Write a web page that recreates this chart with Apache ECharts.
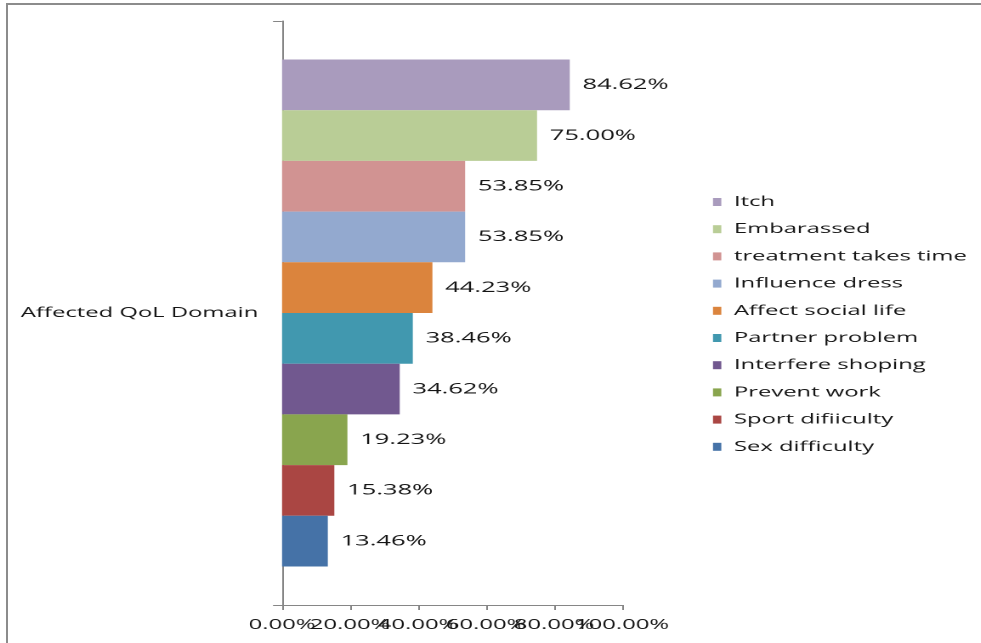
<!DOCTYPE html>
<html>
<head>
<meta charset="utf-8">
<title>Affected QoL Domain</title>
<script src="https://cdn.jsdelivr.net/npm/echarts@6/dist/echarts.min.js"></script>
<style>
  html, body { margin: 0; padding: 0; background: #ffffff; }
  #page { position: relative; width: 981px; height: 643px; overflow: hidden; background: #ffffff; }
  #frame {
    position: absolute; left: 6px; top: 3px; width: 1000px; height: 638px;
    border-left: 2px solid #8c8c8c; border-top: 2px solid #8c8c8c; border-bottom: 1px solid #b4b4b4;
  }
  /* the chart is laid out narrow and widened horizontally, giving the wide lettering */
  #chart {
    position: absolute; left: 0; top: 0; width: 577.06px; height: 643px;
    transform: scaleX(1.7); transform-origin: 0 0;
  }
</style>
</head>
<body>
<div id="page">
  <div id="frame"></div>
  <div id="chart"></div>
</div>
<script>
// Share of patients reporting each affected quality-of-life domain (%)
const categories = ['Affected QoL Domain'];
const domainNames = [
  'Itch',
  'Embarassed',
  'treatment takes time',
  'Influence dress',
  'Affect social life',
  'Partner problem',
  'Interfere shoping',
  'Prevent work',
  'Sport difiiculty',
  'Sex difficulty'
];
const domainValues = [84.62, 75.00, 53.85, 53.85, 44.23, 38.46, 34.62, 19.23, 15.38, 13.46];
const xTickLabels = ['0.00%', '20.00%', '40.00%', '60.00%', '80.00%', '100.00%'];
const palette = ['#a99bbd', '#b9cd96', '#d19392', '#93a9cf', '#db843d', '#4198af', '#71588f', '#89a54e', '#aa4643', '#4572a7'];

const FONT = '"Open Sans", "DejaVu Sans", sans-serif';
const TEXT = '#151515';
const AXIS_GRAY = '#868686';

const chart = echarts.init(document.getElementById('chart'), null, { renderer: 'canvas', devicePixelRatio: 2 });

const series = domainNames.map((name, i) => ({
  name: name,
  type: 'bar',
  xAxisIndex: 0,
  data: [domainValues[i]],
  barGap: '0%',
  barCategoryGap: '13.2%',
  itemStyle: { color: palette[i] },
  label: {
    show: true,
    position: 'right',
    distance: 7.5,
    color: TEXT,
    fontFamily: FONT,
    fontSize: 15,
    formatter: p => p.value.toFixed(2) + '%'
  },
  emphasis: { disabled: true },
  animation: false
}));

// The tick labels run into one another; they are split over two overlaid
// value axes (alternate ticks each) so that every one of them is kept.
function tickLabelAxis(parity, withLine) {
  return {
    type: 'value',
    position: 'bottom',
    offset: 0,
    min: 0,
    max: 100,
    interval: 20,
    splitLine: { show: false },
    axisLine: { show: withLine, lineStyle: { color: AXIS_GRAY, width: 1 } },
    axisTick: { show: withLine, length: 5, lineStyle: { color: AXIS_GRAY } },
    axisLabel: {
      color: TEXT,
      fontSize: 14,
      margin: 13,
      fontFamily: FONT,
      hideOverlap: false,
      showMinLabel: true,
      showMaxLabel: true,
      formatter: v => {
        const k = Math.round(v / 20);
        return k % 2 === parity ? xTickLabels[k] : '';
      }
    }
  };
}

chart.setOption({
  animation: false,
  textStyle: { fontFamily: FONT },
  grid: { left: 165.9, width: 200, top: 21, height: 584, containLabel: false },
  xAxis: [tickLabelAxis(0, true), tickLabelAxis(1, false)],
  yAxis: {
    type: 'category',
    data: categories,
    axisLine: { show: true, lineStyle: { color: AXIS_GRAY, width: 1 } },
    axisTick: { show: true, length: 5.3, lineStyle: { color: AXIS_GRAY } },
    axisLabel: { color: TEXT, fontSize: 14, margin: 14, fontFamily: FONT }
  },
  legend: {
    orient: 'vertical',
    left: 419.4,
    top: 194,
    padding: 0,
    icon: 'rect',
    itemWidth: 4.9,
    itemHeight: 8,
    itemGap: 11.2,
    data: domainNames,
    selectedMode: false,
    textStyle: { color: TEXT, fontSize: 14, lineHeight: 16, padding: [0, 0, 0, 2.4], fontFamily: FONT }
  },
  series: series
});
</script>
</body>
</html>
